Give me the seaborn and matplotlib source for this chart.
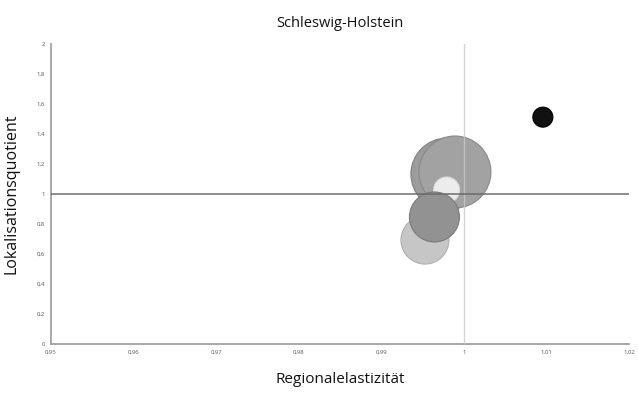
import matplotlib
matplotlib.use("Agg")
import matplotlib.pyplot as plt
import seaborn as sns
import pandas as pd

# Branches of Schleswig-Holstein: regional elasticity, location quotient, employment weight
branche = ["A", "B", "C", "D", "E", "F"]
regionalelastizitaet = [0.99794, 0.99891, 0.99790, 0.99528, 0.99643, 1.00956]
lokalisationsquotient = [1.133, 1.147, 1.027, 0.693, 0.847, 1.513]
gewicht = [1296, 1296, 169, 576, 625, 100]
farben = ["#9c9c9c", "#a2a2a2", "#ececec", "#c6c6c6", "#929292", "#111111"]
kanten = ["#808080", "#888888", "#d8d8d8", "#b0b0b0", "#7a7a7a", "#000000"]

x_ticks = [0.95, 0.96, 0.97, 0.98, 0.99, 1.00, 1.01, 1.02]
x_labels = ["0,95", "0,96", "0,97", "0,98", "0,99", "1", "1,01", "1,02"]
y_ticks = [0, 0.2, 0.4, 0.6, 0.8, 1.0, 1.2, 1.4, 1.6, 1.8, 2.0]
y_labels = ["0", "0,2", "0,4", "0,6", "0,8", "1", "1,2", "1,4", "1,6", "1,8", "2"]

df = pd.DataFrame({
    "branche": branche,
    "x": regionalelastizitaet,
    "y": lokalisationsquotient,
    "w": gewicht,
})

sns.set_theme(style="white")
plt.rcParams["font.family"] = ["Open Sans", "DejaVu Sans"]

fig = plt.figure(figsize=(6.38, 3.94), dpi=100)
ax = fig.add_axes([0.080, 0.127, 0.906, 0.761])

# max marker area in points^2 for a ~36 px radius bubble
smax = (2 * 36 * 0.72) ** 2
sns.scatterplot(
    data=df, x="x", y="y", size="w", hue="branche",
    palette=dict(zip(branche, farben)),
    sizes=(0, smax), size_norm=(0, max(gewicht)),
    edgecolor=kanten, linewidth=0.8, alpha=1.0,
    legend=False, ax=ax, zorder=3,
)

# reference lines at elasticity 1 and quotient 1, drawn across the bubbles
ax.axvline(1.0, color="#c8c8c8", lw=1.0, alpha=0.8, zorder=4)
ax.axhline(1.0, color="#6a6a6a", lw=1.2, alpha=0.9, zorder=4)

ax.set_xlim(0.95, 1.02)
ax.set_ylim(0, 2)
ax.set_xticks(x_ticks)
ax.set_xticklabels(x_labels)
ax.set_yticks(y_ticks)
ax.set_yticklabels(y_labels)
ax.tick_params(axis="both", labelsize=4.3, colors="#555555", length=2.5,
               width=0.8, direction="out", pad=2)
ax.tick_params(axis="x", color="#999999")
ax.tick_params(axis="y", color="#999999")

for side in ["top", "right"]:
    ax.spines[side].set_visible(False)
for side in ["left", "bottom"]:
    ax.spines[side].set_color("#a0a0a0")
    ax.spines[side].set_linewidth(1.3)

ax.set_xlabel("Regionalelastizität", fontsize=11, color="#111111", labelpad=12)
ax.set_ylabel("Lokalisationsquotient", fontsize=11.5, color="#111111", labelpad=12)
ax.set_title("Schleswig-Holstein", fontsize=10.5, color="#111111", pad=12)

fig.savefig("out.png", dpi=100, facecolor="white")
